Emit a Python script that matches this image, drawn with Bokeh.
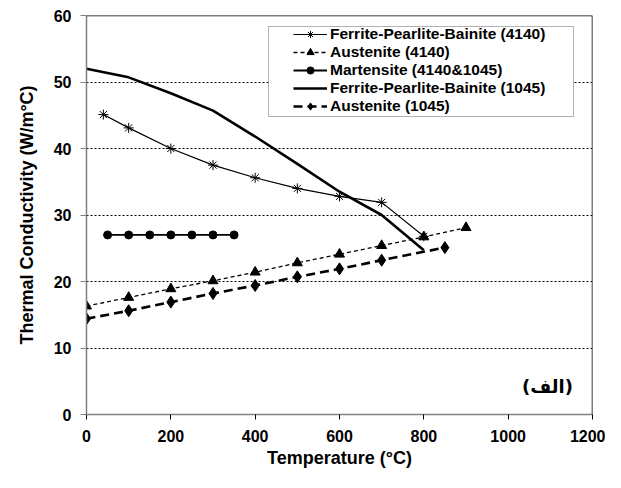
from bokeh.plotting import figure
from bokeh.models import (FixedTicker, Legend, LegendItem, Span, Label,
                          BoxAnnotation)
from bokeh.embed import file_html
from bokeh.resources import INLINE

# ---- data ----
x_ticks = [0, 200, 400, 600, 800, 1000, 1200]
y_ticks = [0, 10, 20, 30, 40, 50, 60]
grid_ticks = [10, 20, 30, 40, 50]

fpb4140_x = [40, 100, 200, 300, 400, 500, 600, 700, 800]
fpb4140_y = [45.1, 43.1, 40.0, 37.5, 35.6, 34.0, 32.8, 31.9, 26.8]

aus4140_x = [0, 100, 200, 300, 400, 500, 600, 700, 800, 900]
aus4140_y = [16.3, 17.6, 18.9, 20.1, 21.4, 22.8, 24.1, 25.4, 26.7, 28.1]

mart_x = [50, 100, 150, 200, 250, 300, 350]
mart_y = [27.0, 27.0, 27.0, 27.0, 27.0, 27.0, 27.0]

fpb1045_x = [0, 100, 200, 300, 400, 500, 600, 700, 800]
fpb1045_y = [52.0, 50.7, 48.3, 45.7, 41.8, 37.7, 33.5, 30.0, 24.7]

aus1045_x = [0, 100, 200, 300, 400, 500, 600, 700, 850]
aus1045_y = [14.4, 15.6, 16.9, 18.2, 19.4, 20.7, 21.9, 23.2, 25.1]

labels = ["Ferrite-Pearlite-Bainite (4140)", "Austenite (4140)",
          "Martensite (4140&1045)", "Ferrite-Pearlite-Bainite (1045)",
          "Austenite (1045)"]

FONT = "Liberation Sans"

p = figure(width=605, height=472, x_range=(0, 1200), y_range=(0, 60),
           output_backend="svg", toolbar_location=None,
           min_border_left=86, min_border_right=13, min_border_top=15,
           min_border_bottom=58)
p.outline_line_color = None
p.xgrid.visible = False
p.ygrid.ticker = FixedTicker(ticks=grid_ticks)
p.ygrid.grid_line_color = "black"
p.ygrid.grid_line_dash = "2 2"
p.ygrid.grid_line_width = 1

p.xaxis.ticker = FixedTicker(ticks=x_ticks)
p.yaxis.ticker = FixedTicker(ticks=y_ticks)
for ax in (p.xaxis, p.yaxis):
    ax.axis_line_color = "#808080"
    ax.axis_line_width = 1.5
    ax.minor_tick_line_color = None
    ax.major_tick_in = 0
    ax.major_label_text_font = FONT
    ax.major_label_text_font_style = "bold"
    ax.major_label_text_font_size = "16px"
    ax.major_label_text_color = "black"
    ax.axis_label_text_font = FONT
    ax.axis_label_text_font_style = "bold"
    ax.axis_label_text_font_size = "18px"
    ax.axis_label_text_color = "black"
p.xaxis.major_tick_out = 5
p.xaxis.major_tick_line_color = "black"
p.xaxis.major_label_standoff = 10
p.xaxis.axis_label_standoff = 3
p.yaxis.major_tick_out = 6
p.yaxis.major_tick_line_color = "#808080"
p.yaxis.major_label_standoff = 9
p.yaxis.axis_label_standoff = 14
p.xaxis.axis_label = "Temperature (°C)"
p.yaxis.axis_label = "Thermal Conductivity (W/m°C)"

# top / right border
p.add_layout(Span(location=60, dimension="width", line_color="black", line_width=1.5))
p.add_layout(Span(location=1200, dimension="height", line_color="black", line_width=1.5))

# series
l1 = p.line(fpb4140_x, fpb4140_y, line_color="black", line_width=1.2)
s1 = p.scatter(fpb4140_x, fpb4140_y, marker="asterisk", size=10,
               line_color="black", line_width=1)
l2 = p.line(aus4140_x, aus4140_y, line_color="black", line_width=1.3, line_dash="4 3")
s2 = p.scatter(aus4140_x, aus4140_y, marker="triangle", size=10,
               fill_color="black", line_color="black")
l3 = p.line(mart_x, mart_y, line_color="black", line_width=1.8)
s3 = p.scatter(mart_x, mart_y, marker="circle", size=8,
               fill_color="black", line_color="black")
l4 = p.line(fpb1045_x, fpb1045_y, line_color="black", line_width=2.6)
l5 = p.line(aus1045_x, aus1045_y, line_color="black", line_width=2.6, line_dash="9 5")
s5 = p.scatter(aus1045_x, aus1045_y, marker="diamond", size=12,
               fill_color="black", line_color="black")

# legend box and legend (screen units, relative to the plot frame)
p.add_layout(BoxAnnotation(left=182, right=487, bottom=298, top=388,
                           left_units="screen", right_units="screen",
                           bottom_units="screen", top_units="screen",
                           fill_color="white", fill_alpha=1,
                           line_color="black", line_width=1, level="annotation"))
legend = Legend(items=[LegendItem(label=labels[0], renderers=[l1, s1]),
                       LegendItem(label=labels[1], renderers=[l2, s2]),
                       LegendItem(label=labels[2], renderers=[l3, s3]),
                       LegendItem(label=labels[3], renderers=[l4]),
                       LegendItem(label=labels[4], renderers=[l5, s5])],
                location=(207, 299), padding=0, margin=0, spacing=0,
                glyph_width=34, glyph_height=18, label_height=18,
                label_standoff=3, border_line_color=None,
                background_fill_alpha=0,
                label_text_font=FONT, label_text_font_style="bold",
                label_text_font_size="15.5px", label_text_color="black")
p.add_layout(legend)

p.add_layout(Label(x=461, y=28, x_units="screen", y_units="screen",
                   text="(الف)", text_align="center", text_baseline="middle",
                   text_font="DejaVu Sans", text_font_style="bold",
                   text_font_size="18px", text_color="black"))

open("out.html", "w").write(file_html(p, INLINE))
